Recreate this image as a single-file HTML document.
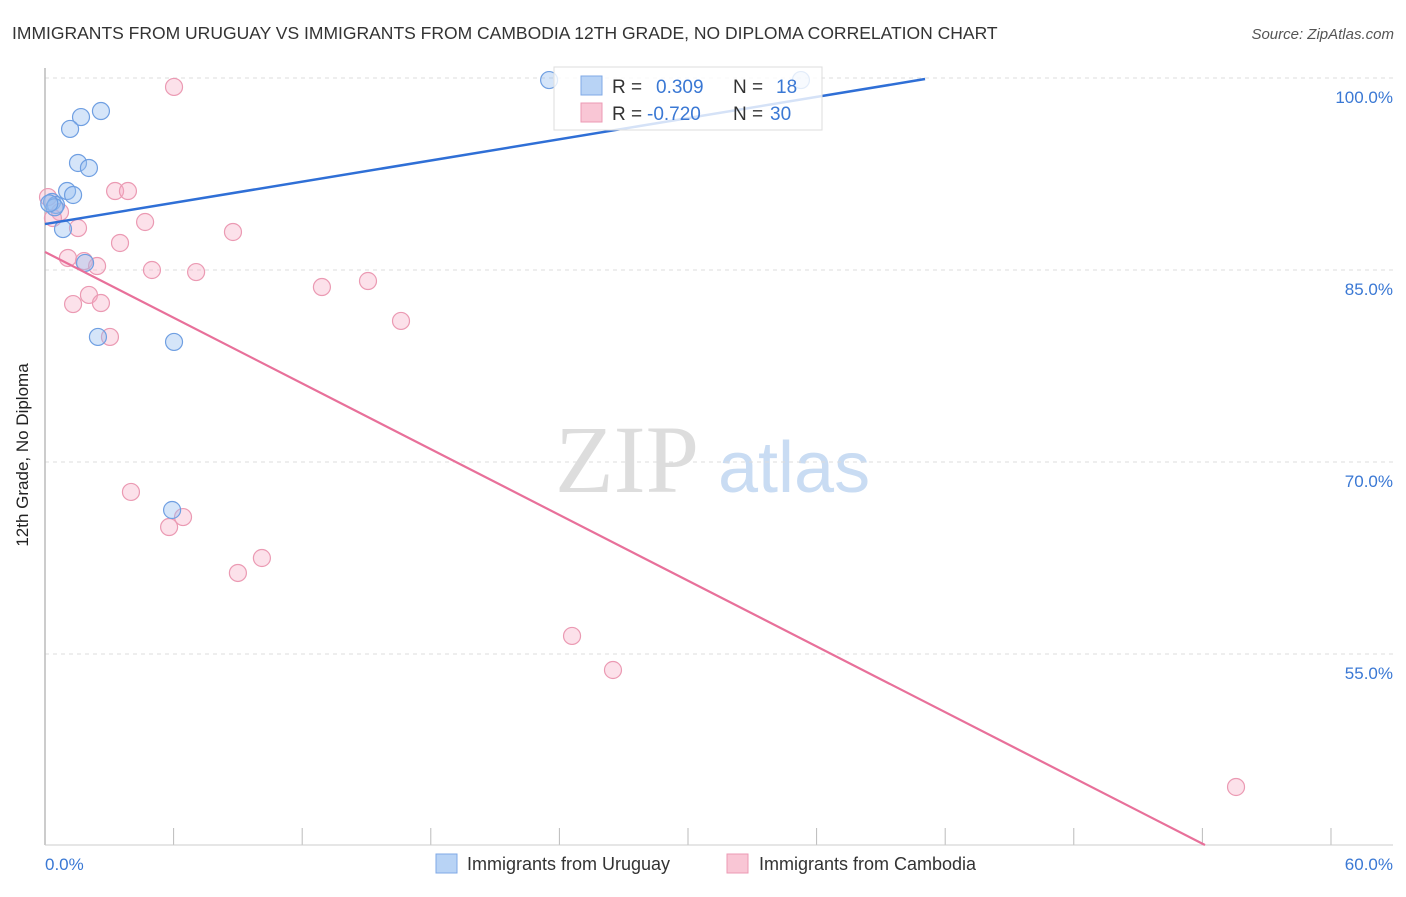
<!DOCTYPE html>
<html><head><meta charset="utf-8"><style>
body{margin:0;background:#fff;font-family:"Liberation Sans",sans-serif}
</style></head><body>
<svg width="1406" height="892" xmlns="http://www.w3.org/2000/svg">
<text x="12" y="39" font-size="17.5" fill="#333">IMMIGRANTS FROM URUGUAY VS IMMIGRANTS FROM CAMBODIA 12TH GRADE, NO DIPLOMA CORRELATION CHART</text>
<text x="1394" y="39" font-size="15" fill="#555" text-anchor="end" font-style="italic">Source: ZipAtlas.com</text>
<text x="555" y="492" font-size="96" fill="#ddd" font-family="Liberation Serif,serif">ZIP</text>
<text x="718" y="492" font-size="72" fill="#c9dcf3">atlas</text>
<g id="grid"></g>
<line x1="45" y1="68" x2="45" y2="845" stroke="#bbb" stroke-width="1.5"/>
<line x1="45" y1="845" x2="1393" y2="845" stroke="#ccc"/>
<text x="28" y="455" font-size="17" fill="#222" transform="rotate(-90 28 455)" text-anchor="middle">12th Grade, No Diploma</text>
<text x="45" y="870" font-size="17" fill="#3a78d4">0.0%</text>
<text x="1393" y="870" font-size="17" fill="#3a78d4" text-anchor="end">60.0%</text>
<g id="pts"></g>
<g id="lines"></g>
<g>
<rect x="554" y="67" width="268" height="63" fill="#fff" fill-opacity="0.8" stroke="#ddd"/>
<rect x="581" y="76" width="21" height="19" fill="#b8d3f5" stroke="#7fa8e6"/>
<rect x="581" y="103" width="21" height="19" fill="#f9c6d5" stroke="#ec9ab4"/>
<text x="612" y="93" font-size="19" fill="#333">R = <tspan fill="#3a78d4" x="656">0.309</tspan><tspan x="733" fill="#333">N = </tspan><tspan x="776" fill="#3a78d4">18</tspan></text>
<text x="612" y="120" font-size="19" fill="#333">R = <tspan fill="#3a78d4" x="647">-0.720</tspan><tspan x="733" fill="#333">N = </tspan><tspan x="770" fill="#3a78d4">30</tspan></text>
</g>
<g>
<rect x="436" y="854" width="21" height="19" fill="#b8d3f5" stroke="#7fa8e6"/>
<text x="467" y="870" font-size="18" fill="#333">Immigrants from Uruguay</text>
<rect x="727" y="854" width="21" height="19" fill="#f9c6d5" stroke="#ec9ab4"/>
<text x="759" y="870" font-size="18" fill="#333">Immigrants from Cambodia</text>
</g>
</svg>
<script>
const yTicks=[100,85,70,55];
const xTicks=[0,6,12,18,24,30,36,42,48,54,60];
const uruguayX=[23.52,35.27,2.61,1.68,1.17,1.54,2.05,1.03,1.31,0.33,0.51,0.84,1.87,2.47,6.02,5.93,0.45,0.2];
const uruguayY=[99.84,99.84,97.42,96.95,96.02,93.36,92.97,91.17,90.86,90.31,90.08,88.20,85.55,79.77,79.38,66.25,89.9,90.2];
const cambodiaX=[6.02,3.27,3.87,0.14,0.70,0.37,1.54,4.67,8.77,3.50,1.07,1.82,2.43,4.99,7.05,12.92,15.07,2.05,1.31,2.61,16.61,3.03,4.01,6.44,5.79,10.12,9.00,24.59,26.50,55.57];
const cambodiaY=[99.30,91.17,91.17,90.70,89.53,89.06,88.28,88.75,87.97,87.11,85.94,85.70,85.31,85.00,84.84,83.67,84.14,83.05,82.34,82.42,81.02,79.77,67.66,65.70,64.92,62.50,61.33,56.41,53.75,44.61];
const uruguayTrend=[0,88.59,41.06,99.92];
const cambodiaTrend=[0,86.41,54.12,40.08];
const NS="http://www.w3.org/2000/svg";
const sx=v=>45+v*21.433, sy=v=>78+(100-v)*12.8;
const grid=document.getElementById('grid'),pts=document.getElementById('pts'),lines=document.getElementById('lines');
function mk(tag,attrs,parent){const e=document.createElementNS(NS,tag);for(const k in attrs)e.setAttribute(k,attrs[k]);parent.appendChild(e);return e;}
yTicks.forEach(t=>{
 const l=mk('line',{x1:45,x2:1393,y1:sy(t),y2:sy(t),stroke:'#ddd','stroke-dasharray':'4,4'},grid);
 
 
 const tx=mk('text',{x:1393,y:sy(t)+25,'font-size':17,fill:'#3a78d4','text-anchor':'end'},grid);
 tx.textContent=t.toFixed(1)+'%';
 
 
});
xTicks.forEach(t=>{
 const l=mk('line',{x1:sx(t),x2:sx(t),y1:828,y2:845,stroke:'#bbb'},grid);
 
 
});
cambodiaX.forEach((x,i)=>{
 const c=mk('circle',{cx:sx(x),cy:sy(cambodiaY[i]),r:8.5,fill:'rgba(245,170,195,0.35)',stroke:'#eb9ab3','stroke-width':1.2},pts);
 
 
});
uruguayX.forEach((x,i)=>{
 const c=mk('circle',{cx:sx(x),cy:sy(uruguayY[i]),r:8.5,fill:'rgba(150,190,240,0.4)',stroke:'#6f9fe2','stroke-width':1.2},pts);
 
 
});
const lb=mk('line',{x1:sx(uruguayTrend[0]),y1:sy(uruguayTrend[1]),x2:sx(uruguayTrend[2]),y2:sy(uruguayTrend[3]),stroke:'#2f6fd6','stroke-width':2.5},lines);


const lp=mk('line',{x1:sx(cambodiaTrend[0]),y1:sy(cambodiaTrend[1]),x2:sx(cambodiaTrend[2]),y2:sy(cambodiaTrend[3]),stroke:'#e8709a','stroke-width':2.2},lines);


</script>
</body></html>
